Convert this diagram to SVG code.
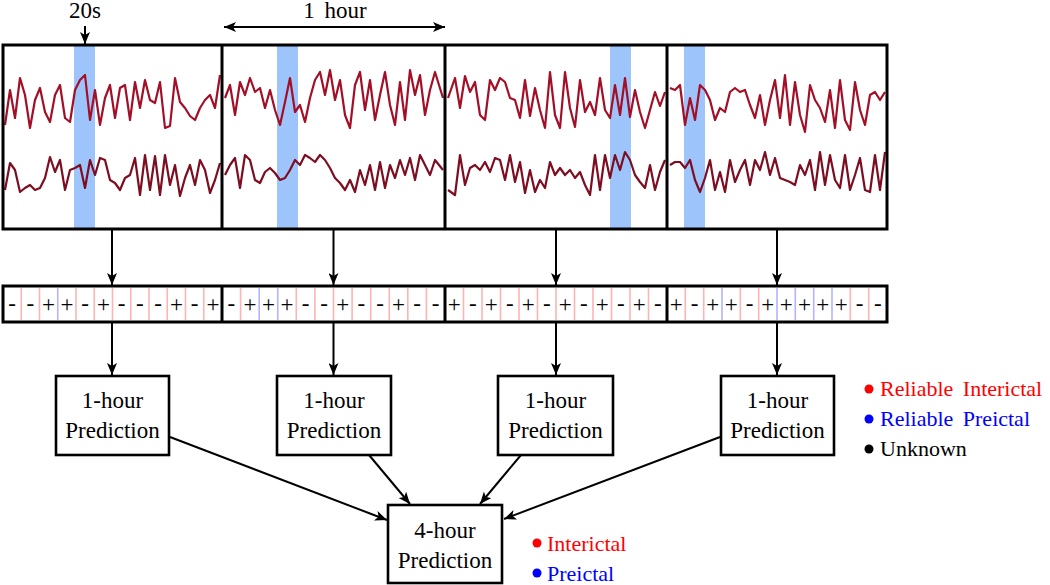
<svg xmlns="http://www.w3.org/2000/svg" width="1050" height="585" viewBox="0 0 1050 585" font-family="Liberation Serif, Times New Roman, DejaVu Serif, serif">
<style>
text{fill:#000}
.t{font-size:23px;text-anchor:middle}
.pm{font-size:23px;text-anchor:middle}
.frame{fill:none;stroke:#000;stroke-width:3}
.box{fill:#fff;stroke:#000;stroke-width:2.6}
.band{fill:#9ec5fb}
.up{fill:none;stroke:#a30f27;stroke-width:2.2;stroke-linejoin:round}
.lo{fill:none;stroke:#7d0d20;stroke-width:2.2;stroke-linejoin:round}
.sp{stroke:#ffb3b3;stroke-width:1.6}
.sb{stroke:#b3b3ff;stroke-width:1.6}
.con{fill:none;stroke:#000;stroke-width:2}
.leg{font-size:22px;word-spacing:4px}
</style>
<defs>
<marker id="ah" viewBox="0 0 12 10" refX="12" refY="5" markerWidth="12" markerHeight="10" orient="auto-start-reverse" markerUnits="userSpaceOnUse">
<path d="M0,0 L12,5 L0,10 L3,5 z" fill="#000"/>
</marker>
</defs>
<rect width="1050" height="585" fill="#fff"/>

<g id="labels-top" font-family="Liberation Serif, Times New Roman, DejaVu Serif, serif">
<text class="t" x="85" y="18" font-family="Liberation Serif, Times New Roman, DejaVu Serif, serif">20s</text>
<text class="t" x="335" y="18" font-family="Liberation Serif, Times New Roman, DejaVu Serif, serif" style="word-spacing:4px">1 hour</text>
</g>

<g id="panel1">
<rect class="band" x="74" y="46" width="21" height="182"/>
<polyline class="up" points="5,125 10,90 15,118 20,78 25,95 30,128 35,100 40,88 45,112 50,122 55,95 60,85 65,118 70,122 75,90 80,80 85,75 90,120 95,90 100,125 105,98 110,85 115,118 120,88 125,85 130,120 135,82 140,108 145,80 150,100 155,103 160,82 165,128 170,126 175,78 180,102 185,108 190,116 195,120 200,108 205,100 210,95 215,108 220,75"/>
<polyline class="lo" points="5,190 10,163 15,170 20,192 25,188 30,185 35,190 40,188 45,178 50,157 55,172 60,160 65,190 70,170 75,168 80,165 85,188 90,160 95,175 100,158 105,160 110,180 115,183 120,190 125,178 130,175 135,158 140,195 145,155 150,190 155,156 160,195 165,155 170,185 175,165 180,196 185,178 190,165 195,185 200,160 205,170 210,193 215,180 220,163"/>
</g>
<g id="panel2">
<rect class="band" x="277" y="46" width="21" height="182"/>
<polyline class="up" points="225,98 230,85 235,115 240,82 245,95 250,78 255,92 260,88 265,108 270,90 275,110 280,125 285,102 290,78 295,112 300,105 305,122 310,98 315,80 320,72 325,95 330,70 335,100 340,80 345,115 350,128 355,85 360,72 365,110 370,80 375,120 380,95 385,72 390,105 395,125 400,82 405,120 410,70 415,95 420,75 425,115 430,90 435,72 443,98"/>
<polyline class="lo" points="225,175 230,165 235,158 240,188 245,155 250,160 255,180 260,183 265,172 270,168 275,173 280,180 285,178 290,170 295,160 300,165 305,155 310,158 315,162 320,155 325,160 330,168 335,178 340,183 345,190 350,180 355,192 360,170 365,185 370,165 375,190 380,162 385,188 390,165 395,178 400,160 405,175 410,158 415,180 420,155 425,165 430,175 435,160 443,170"/>
</g>
<g id="panel3">
<rect class="band" x="610" y="46" width="21" height="182"/>
<polyline class="up" points="448,98 455,78 460,108 465,76 470,92 475,82 480,115 485,120 490,80 495,90 500,78 505,82 510,98 515,100 520,118 525,80 530,116 535,88 540,110 545,128 550,72 555,115 560,128 565,72 570,108 575,127 580,80 585,112 590,102 595,115 600,78 605,110 610,118 615,85 620,115 625,78 630,117 635,90 640,112 645,128 650,110 655,92 660,106 665,92"/>
<polyline class="lo" points="448,190 455,195 460,155 465,185 470,168 475,165 480,170 485,162 490,172 495,158 500,160 505,180 510,155 515,182 520,162 525,193 530,170 535,192 540,180 545,188 550,162 555,175 560,168 565,175 570,170 575,178 580,172 585,185 590,195 595,155 600,190 605,155 610,178 615,155 620,170 625,152 630,160 635,175 640,182 645,188 650,165 655,190 660,172 665,160"/>
</g>
<g id="panel4">
<rect class="band" x="684" y="46" width="21" height="182"/>
<polyline class="up" points="670,88 675,90 680,85 685,125 690,98 695,120 700,85 705,90 710,100 715,120 720,108 725,112 730,92 735,88 740,92 745,90 750,105 755,118 760,95 765,125 770,100 775,80 780,118 785,75 790,125 795,82 800,115 805,132 810,85 815,100 820,108 825,122 830,90 835,128 840,80 845,120 850,130 855,82 860,110 865,125 870,95 875,92 880,100 885,92"/>
<polyline class="lo" points="670,165 675,162 680,162 685,168 690,160 695,180 700,192 705,178 710,160 715,190 720,172 725,192 730,160 735,182 740,170 745,160 750,185 755,160 760,170 765,152 770,175 775,158 780,178 785,180 790,182 795,185 800,165 805,175 810,160 815,190 820,152 825,185 830,155 835,180 840,188 845,155 850,190 855,175 860,158 865,190 870,192 875,155 880,190 885,152"/>
</g>
<g id="panel-frame">
<rect class="frame" x="3" y="45" width="884" height="184"/>
<line class="frame" x1="222" y1="45" x2="222" y2="229"/>
<line class="frame" x1="445" y1="45" x2="445" y2="229"/>
<line class="frame" x1="667" y1="45" x2="667" y2="229"/>
</g>

<g id="label-row">
<g id="seps">
<line class="sp" x1="21.25" y1="288" x2="21.25" y2="320"/>
<line class="sp" x1="39.5" y1="288" x2="39.5" y2="320"/>
<line class="sb" x1="57.75" y1="288" x2="57.75" y2="320"/>
<line class="sp" x1="76" y1="288" x2="76" y2="320"/>
<line class="sp" x1="94.25" y1="288" x2="94.25" y2="320"/>
<line class="sp" x1="112.5" y1="288" x2="112.5" y2="320"/>
<line class="sp" x1="130.75" y1="288" x2="130.75" y2="320"/>
<line class="sp" x1="149" y1="288" x2="149" y2="320"/>
<line class="sp" x1="167.25" y1="288" x2="167.25" y2="320"/>
<line class="sp" x1="185.5" y1="288" x2="185.5" y2="320"/>
<line class="sp" x1="203.75" y1="288" x2="203.75" y2="320"/>

<line class="sp" x1="240.6" y1="288" x2="240.6" y2="320"/>
<line class="sb" x1="259.2" y1="288" x2="259.2" y2="320"/>
<line class="sb" x1="277.75" y1="288" x2="277.75" y2="320"/>
<line class="sp" x1="296.3" y1="288" x2="296.3" y2="320"/>
<line class="sp" x1="314.9" y1="288" x2="314.9" y2="320"/>
<line class="sp" x1="333.5" y1="288" x2="333.5" y2="320"/>
<line class="sp" x1="352.1" y1="288" x2="352.1" y2="320"/>
<line class="sp" x1="370.7" y1="288" x2="370.7" y2="320"/>
<line class="sp" x1="389.25" y1="288" x2="389.25" y2="320"/>
<line class="sp" x1="407.8" y1="288" x2="407.8" y2="320"/>
<line class="sp" x1="426.4" y1="288" x2="426.4" y2="320"/>

<line class="sp" x1="463.5" y1="288" x2="463.5" y2="320"/>
<line class="sp" x1="482" y1="288" x2="482" y2="320"/>
<line class="sp" x1="500.5" y1="288" x2="500.5" y2="320"/>
<line class="sp" x1="519" y1="288" x2="519" y2="320"/>
<line class="sp" x1="537.5" y1="288" x2="537.5" y2="320"/>
<line class="sp" x1="556" y1="288" x2="556" y2="320"/>
<line class="sp" x1="574.5" y1="288" x2="574.5" y2="320"/>
<line class="sp" x1="593" y1="288" x2="593" y2="320"/>
<line class="sp" x1="611.5" y1="288" x2="611.5" y2="320"/>
<line class="sp" x1="630" y1="288" x2="630" y2="320"/>
<line class="sp" x1="648.5" y1="288" x2="648.5" y2="320"/>

<line class="sp" x1="685.3" y1="288" x2="685.3" y2="320"/>
<line class="sp" x1="703.7" y1="288" x2="703.7" y2="320"/>
<line class="sb" x1="722" y1="288" x2="722" y2="320"/>
<line class="sp" x1="740.3" y1="288" x2="740.3" y2="320"/>
<line class="sp" x1="758.7" y1="288" x2="758.7" y2="320"/>
<line class="sb" x1="777" y1="288" x2="777" y2="320"/>
<line class="sb" x1="795.3" y1="288" x2="795.3" y2="320"/>
<line class="sb" x1="813.7" y1="288" x2="813.7" y2="320"/>
<line class="sb" x1="832" y1="288" x2="832" y2="320"/>
<line class="sp" x1="850.3" y1="288" x2="850.3" y2="320"/>
<line class="sp" x1="868.7" y1="288" x2="868.7" y2="320"/>
</g>
<g id="signs" font-family="Liberation Serif, Times New Roman, DejaVu Serif, serif">
<text class="pm" x="12.1" y="311">-</text>
<text class="pm" x="30.4" y="311">-</text>
<text class="pm" x="48.6" y="312">+</text>
<text class="pm" x="66.9" y="312">+</text>
<text class="pm" x="85.1" y="311">-</text>
<text class="pm" x="103.4" y="312">+</text>
<text class="pm" x="121.6" y="311">-</text>
<text class="pm" x="139.9" y="311">-</text>
<text class="pm" x="158.1" y="311">-</text>
<text class="pm" x="176.4" y="312">+</text>
<text class="pm" x="194.6" y="311">-</text>
<text class="pm" x="212.9" y="312">+</text>

<text class="pm" x="231.3" y="311">-</text>
<text class="pm" x="249.9" y="312">+</text>
<text class="pm" x="268.5" y="312">+</text>
<text class="pm" x="287" y="312">+</text>
<text class="pm" x="305.6" y="311">-</text>
<text class="pm" x="324.2" y="311">-</text>
<text class="pm" x="342.8" y="312">+</text>
<text class="pm" x="361.4" y="311">-</text>
<text class="pm" x="380" y="311">-</text>
<text class="pm" x="398.5" y="312">+</text>
<text class="pm" x="417.1" y="311">-</text>
<text class="pm" x="435.7" y="311">-</text>

<text class="pm" x="454.25" y="312">+</text>
<text class="pm" x="472.75" y="311">-</text>
<text class="pm" x="491.25" y="312">+</text>
<text class="pm" x="509.75" y="311">-</text>
<text class="pm" x="528.25" y="312">+</text>
<text class="pm" x="546.75" y="311">-</text>
<text class="pm" x="565.25" y="312">+</text>
<text class="pm" x="583.75" y="311">-</text>
<text class="pm" x="602.25" y="312">+</text>
<text class="pm" x="620.75" y="311">-</text>
<text class="pm" x="639.25" y="312">+</text>
<text class="pm" x="657.75" y="311">-</text>

<text class="pm" x="676.2" y="312">+</text>
<text class="pm" x="694.5" y="311">-</text>
<text class="pm" x="712.8" y="312">+</text>
<text class="pm" x="731.2" y="312">+</text>
<text class="pm" x="749.5" y="311">-</text>
<text class="pm" x="767.8" y="312">+</text>
<text class="pm" x="786.2" y="312">+</text>
<text class="pm" x="804.5" y="312">+</text>
<text class="pm" x="822.8" y="312">+</text>
<text class="pm" x="841.2" y="312">+</text>
<text class="pm" x="859.5" y="311">-</text>
<text class="pm" x="877.8" y="311">-</text>
</g>
<rect class="frame" x="3" y="286" width="884" height="36"/>
<line class="frame" x1="222" y1="286" x2="222" y2="322"/>
<line class="frame" x1="445" y1="286" x2="445" y2="322"/>
<line class="frame" x1="667" y1="286" x2="667" y2="322"/>
</g>

<g id="pred1" font-family="Liberation Serif, Times New Roman, DejaVu Serif, serif">
<rect class="box" x="56" y="376" width="113" height="79"/>
<text class="t" x="112.5" y="408">1-hour</text>
<text class="t" x="112.5" y="438">Prediction</text>
</g>
<g id="pred2" font-family="Liberation Serif, Times New Roman, DejaVu Serif, serif">
<rect class="box" x="277" y="376" width="114" height="79"/>
<text class="t" x="334" y="408">1-hour</text>
<text class="t" x="334" y="438">Prediction</text>
</g>
<g id="pred3" font-family="Liberation Serif, Times New Roman, DejaVu Serif, serif">
<rect class="box" x="498" y="376" width="115" height="79"/>
<text class="t" x="555.5" y="408">1-hour</text>
<text class="t" x="555.5" y="438">Prediction</text>
</g>
<g id="pred4" font-family="Liberation Serif, Times New Roman, DejaVu Serif, serif">
<rect class="box" x="721" y="376" width="113" height="79"/>
<text class="t" x="777.5" y="408">1-hour</text>
<text class="t" x="777.5" y="438">Prediction</text>
</g>
<g id="pred4h" font-family="Liberation Serif, Times New Roman, DejaVu Serif, serif">
<rect class="box" x="388" y="505" width="114" height="78"/>
<text class="t" x="445" y="538">4-hour</text>
<text class="t" x="445" y="568">Prediction</text>
</g>

<g id="legend1" font-family="Liberation Serif, Times New Roman, DejaVu Serif, serif">
<circle cx="869" cy="389" r="4.5" fill="#ff0000"/>
<text class="leg" x="880" y="396" style="fill:#ff0000">Reliable Interictal</text>
<circle cx="869" cy="419" r="4.5" fill="#0000ff"/>
<text class="leg" x="880" y="426" style="fill:#0000ff">Reliable Preictal</text>
<circle cx="869" cy="449" r="4.5" fill="#000"/>
<text class="leg" x="880" y="456">Unknown</text>
</g>
<g id="legend2" font-family="Liberation Serif, Times New Roman, DejaVu Serif, serif">
<circle cx="537" cy="543" r="4.5" fill="#ff0000"/>
<text class="leg" x="547" y="551" style="fill:#ff0000">Interictal</text>
<circle cx="537" cy="573" r="4.5" fill="#0000ff"/>
<text class="leg" x="547" y="581" style="fill:#0000ff">Preictal</text>
</g>

<g id="connectors">
<line class="con" x1="85" y1="26" x2="85" y2="44" marker-end="url(#ah)"/>
<line class="con" x1="224" y1="27" x2="445" y2="27" marker-start="url(#ah)" marker-end="url(#ah)"/>
<line class="con" x1="112" y1="230" x2="112" y2="285" marker-end="url(#ah)"/>
<line class="con" x1="333.5" y1="230" x2="333.5" y2="285" marker-end="url(#ah)"/>
<line class="con" x1="556" y1="230" x2="556" y2="285" marker-end="url(#ah)"/>
<line class="con" x1="777" y1="230" x2="777" y2="285" marker-end="url(#ah)"/>
<line class="con" x1="112" y1="323" x2="112" y2="375" marker-end="url(#ah)"/>
<line class="con" x1="333.5" y1="323" x2="333.5" y2="375" marker-end="url(#ah)"/>
<line class="con" x1="556" y1="323" x2="556" y2="375" marker-end="url(#ah)"/>
<line class="con" x1="777" y1="323" x2="777" y2="375" marker-end="url(#ah)"/>
<line class="con" x1="170" y1="437" x2="387" y2="520" marker-end="url(#ah)"/>
<line class="con" x1="369" y1="455" x2="410" y2="504" marker-end="url(#ah)"/>
<line class="con" x1="521" y1="455" x2="480" y2="504" marker-end="url(#ah)"/>
<line class="con" x1="720" y1="437" x2="504" y2="519" marker-end="url(#ah)"/>
</g>
</svg>
